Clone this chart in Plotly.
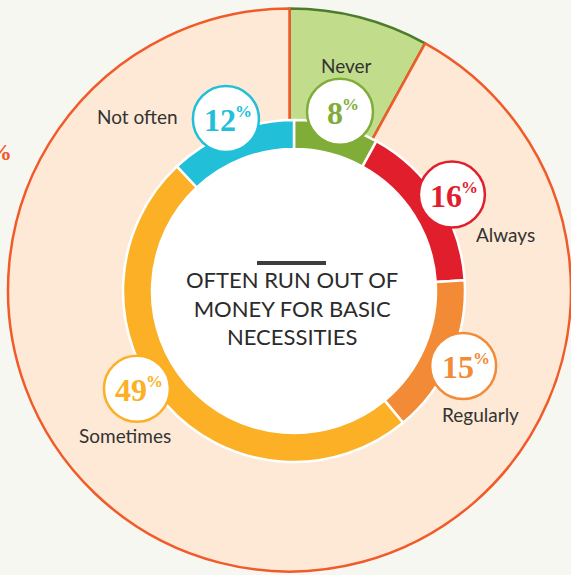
import math
import plotly.graph_objects as go

# ---- data ----
categories = ["Never", "Always", "Regularly", "Sometimes", "Not often"]
shares = [8, 16, 15, 49, 12]                      # percent of respondents
colors = ["#80ad38", "#e01e2c", "#f28a36", "#fbb025", "#22bfd8"]
outer_labels = ["Never", "Other"]
outer_values = [8, 92]
title_lines = ["OFTEN RUN OUT OF", "MONEY FOR BASIC", "NECESSITIES"]

# ---- layout geometry (pixels) ----
W, H = 571, 575
BG = "#f7f7f1"
DCX, DCY = 294, 291          # ring centre
R_OUT = 171                  # ring outer radius
R_IN = 142                   # ring inner radius
BIG_LEFT, BIG_CY = 8, 290    # big backdrop circle
BADGE_R = 33
BADGE_RING = 185
badge_nudge = [0, 1, 0.5, 9.5, 0]           # degrees added to slice mid-angle
label_offset = [(6, -46), (54, 40), (17, 49), (-12, 47), (-88, -2)]
DIGIT_W, PCT_W = 16, 13                     # approx glyph widths for badge text


def px(x, y):
    return x / W, 1 - y / H


def domain_for(cx, cy, r):
    x0, y1 = px(cx - r, cy - r)
    x1, y0 = px(cx + r, cy + r)
    return dict(x=[max(0, x0), min(1, x1)], y=[max(0, y0), min(1, y1)])


fig = go.Figure()

# big backdrop circle with the "Never" wedge
big_r = (W - BIG_LEFT) / 2
fig.add_trace(go.Pie(
    labels=outer_labels, values=outer_values, sort=False,
    direction="clockwise", rotation=0,
    marker=dict(colors=["#c1dc8b", "#fde9d5"],
                line=dict(color=["#4b7b2b", "#f15a29"], width=[2.5, 2.5])),
    textinfo="none", hoverinfo="skip", showlegend=False,
    domain=dict(x=[BIG_LEFT / W, 1.0],
                y=[1 - (BIG_CY + big_r) / H, 1 - (BIG_CY - big_r) / H]),
))

# white disc behind the ring
fig.add_trace(go.Pie(
    labels=["disc"], values=[1], sort=False,
    marker=dict(colors=["#ffffff"], line=dict(width=0)),
    textinfo="none", hoverinfo="skip", showlegend=False,
    domain=domain_for(DCX, DCY, R_IN + 2),
))

# the ring of answers
fig.add_trace(go.Pie(
    labels=categories, values=shares, sort=False,
    direction="clockwise", rotation=0, hole=R_IN / R_OUT,
    marker=dict(colors=colors, line=dict(color="#ffffff", width=2.5)),
    textinfo="none", hoverinfo="skip", showlegend=False,
    domain=domain_for(DCX, DCY, R_OUT),
))

shapes = []
annotations = []

total = sum(shares)
cum = 0
for i, (cat, val, col) in enumerate(zip(categories, shares, colors)):
    mid = (cum + val / 2) / total * 360 + badge_nudge[i]
    cum += val
    th = math.radians(mid)
    bx = DCX + BADGE_RING * math.sin(th)
    by = DCY - BADGE_RING * math.cos(th)
    x0, y1 = px(bx - BADGE_R, by - BADGE_R)
    x1, y0 = px(bx + BADGE_R, by + BADGE_R)
    shapes.append(dict(type="circle", xref="paper", yref="paper",
                       x0=x0, x1=x1, y0=y0, y1=y1,
                       fillcolor="#ffffff", line=dict(color=col, width=2.5)))

    # number and raised percent sign, centred together in the badge
    digits = str(val)
    nd = len(digits)
    split = bx + 1 - (nd * DIGIT_W + PCT_W) / 2 + nd * DIGIT_W
    sx, sy = px(split + 1, by + 1)
    annotations.append(dict(
        x=sx, y=sy, xref="paper", yref="paper", showarrow=False,
        text=digits, xanchor="right", yanchor="middle", borderpad=0,
        font=dict(family="Liberation Serif", size=32, color=col, weight="bold"),
    ))
    px_, py_ = px(split - 2, by - 7)
    annotations.append(dict(
        x=px_, y=py_, xref="paper", yref="paper", showarrow=False,
        text="%", xanchor="left", yanchor="middle", borderpad=0,
        font=dict(family="Liberation Serif", size=17, color=col, weight="bold"),
    ))

    dx, dy = label_offset[i]
    lx, ly = px(bx + dx, by + dy)
    annotations.append(dict(
        x=lx, y=ly, xref="paper", yref="paper", showarrow=False,
        text=cat, xanchor="center", yanchor="middle",
        font=dict(family="Lato", size=19, color="#333333"),
    ))

# centre title with rule above
lx0, ly = px(DCX - 37, DCY - 28)
lx1, _ = px(DCX + 32, DCY - 28)
shapes.append(dict(type="line", xref="paper", yref="paper",
                   x0=lx0, x1=lx1, y0=ly, y1=ly,
                   line=dict(color="#3d3d3d", width=4)))
tx, ty = px(DCX - 2, DCY + 17)
annotations.append(dict(
    x=tx, y=ty, xref="paper", yref="paper", showarrow=False,
    text="<br>".join(title_lines), xanchor="center", yanchor="middle",
    align="center",
    font=dict(family="Lato", size=22, color="#2b2b2b"),
))

# edge of a neighbouring badge
annotations.append(dict(
    x=0, y=1 - 152 / H, xref="paper", yref="paper", showarrow=False,
    text="%", xanchor="center", yanchor="middle",
    font=dict(family="Liberation Serif", size=24, color="#f15a29", weight="bold"),
))

fig.update_layout(
    width=W, height=H,
    margin=dict(l=0, r=0, t=0, b=0),
    paper_bgcolor=BG, plot_bgcolor=BG,
    shapes=shapes, annotations=annotations,
)

fig.write_html("out.html")
